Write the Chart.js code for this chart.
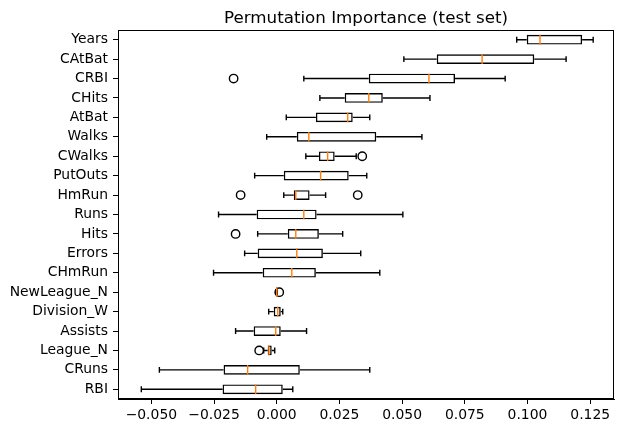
<!DOCTYPE html>
<html>
<head>
<meta charset="utf-8">
<script src="https://cdn.jsdelivr.net/npm/chart.js@4"></script>
<style>
  html, body { margin: 0; padding: 0; background: #fff; }
  canvas { display: block; }
</style>
</head>
<body>
<canvas id="grafico" width="624" height="433"></canvas>
<script>
// Datos (de arriba hacia abajo)
const features = ["Years", "CAtBat", "CRBI", "CHits", "AtBat", "Walks", "CWalks", "PutOuts", "HmRun",
  "Runs", "Hits", "Errors", "CHmRun", "NewLeague_N", "Division_W", "Assists", "League_N", "CRuns", "RBI"];
const whiskerLow = [0.0957, 0.0507, 0.0108, 0.0172, 0.0038, -0.0040, 0.0116, -0.0088, 0.0028,
  -0.0232, -0.0076, -0.0128, -0.0252, -0.0004, -0.0032, -0.0164, -0.0052, -0.0468, -0.0540];
const q1 = [0.0997, 0.0638, 0.0367, 0.0271, 0.0156, 0.0080, 0.0168, 0.0028, 0.0068,
  -0.0080, 0.0044, -0.0076, -0.0056, -0.0002, -0.0012, -0.0092, -0.0036, -0.0212, -0.0216];
const medians = [0.1050, 0.0819, 0.0607, 0.0367, 0.0283, 0.0128, 0.0203, 0.0175, 0.0076,
  0.0108, 0.0076, 0.0080, 0.0060, 0.0000, 0.0004, -0.0004, -0.0031, -0.0116, -0.0084];
const q3 = [0.1218, 0.1027, 0.0711, 0.0423, 0.0303, 0.0397, 0.0231, 0.0287, 0.0131,
  0.0159, 0.0168, 0.0184, 0.0156, 0.0001, 0.0016, 0.0016, -0.0020, 0.0092, 0.0024];
const whiskerHigh = [0.1262, 0.1154, 0.0911, 0.0611, 0.0371, 0.0579, 0.0317, 0.0359, 0.0195,
  0.0503, 0.0263, 0.0335, 0.0411, 0.0002, 0.0024, 0.0119, -0.0008, 0.0371, 0.0064];
const outlierLabels = ["CRBI", "CWalks", "HmRun", "HmRun", "Hits", "NewLeague_N", "League_N"];
const outlierValues = [-0.0172, 0.0341, -0.0144, 0.0323, -0.0164, 0.0010, -0.0070];
const xTicks = [-0.05, -0.025, 0, 0.025, 0.05, 0.075, 0.1, 0.125];
const titulo = "Permutation Importance (test set)";

const fuente = "'DejaVu Sans', sans-serif";
const ancho = 1.4;

// Bigotes, topes, medianas, marco y título sobre las escalas de Chart.js
const bigotes = {
  id: "bigotes",
  afterDatasetsDraw(chart) {
    const ctx = chart.ctx;
    const x = chart.scales.x;
    const y = chart.scales.y;
    const medio = (y.getPixelForValue(1) - y.getPixelForValue(0)) * 0.5 / 2;
    ctx.save();
    ctx.lineWidth = ancho;
    features.forEach((f, i) => {
      const py = y.getPixelForValue(i);
      const cap = medio / 2 + 0.5;
      ctx.strokeStyle = "#000";
      ctx.beginPath();
      ctx.moveTo(x.getPixelForValue(whiskerLow[i]), py);
      ctx.lineTo(x.getPixelForValue(q1[i]), py);
      ctx.moveTo(x.getPixelForValue(q3[i]), py);
      ctx.lineTo(x.getPixelForValue(whiskerHigh[i]), py);
      [whiskerLow[i], whiskerHigh[i]].forEach((v) => {
        const px = x.getPixelForValue(v);
        ctx.moveTo(px, py - cap);
        ctx.lineTo(px, py + cap);
      });
      ctx.stroke();
      ctx.strokeStyle = "#ff7f0e";
      ctx.beginPath();
      const pm = x.getPixelForValue(medians[i]);
      ctx.moveTo(pm, py - medio);
      ctx.lineTo(pm, py + medio);
      ctx.stroke();
    });
    const a = chart.chartArea;
    ctx.strokeStyle = "#000";
    ctx.lineWidth = 1;
    ctx.strokeRect(a.left + 0.5, a.top + 0.5, a.right - a.left - 1, a.bottom - a.top - 1);
    // título centrado sobre el área del gráfico
    ctx.fillStyle = "#000";
    ctx.font = "16.7px " + fuente;
    ctx.textAlign = "center";
    ctx.textBaseline = "alphabetic";
    ctx.fillText(titulo, (a.left + a.right) / 2, a.top - 7);
    ctx.restore();
  }
};

const config = {
  data: {
    labels: features,
    datasets: [
      {
        type: "bar",
        indexAxis: "y",
        data: features.map((f, i) => [q1[i], q3[i]]),
        backgroundColor: "rgba(255,255,255,0)",
        borderColor: "#000",
        borderWidth: ancho,
        borderSkipped: false,
        categoryPercentage: 1,
        barPercentage: 0.5,
        order: 2
      },
      {
        type: "scatter",
        data: outlierLabels.map((l, i) => ({ x: outlierValues[i], y: l })),
        pointStyle: "circle",
        pointRadius: 4.2,
        backgroundColor: "rgba(0,0,0,0)",
        borderColor: "#000",
        borderWidth: ancho,
        order: 1
      }
    ]
  },
  options: {
    responsive: false,
    animation: false,
    layout: { padding: { left: 0, right: 10, top: 30, bottom: 0 } },
    plugins: {
      legend: { display: false },
      tooltip: { enabled: false },
      title: { display: false }
    },
    scales: {
      x: {
        type: "linear",
        min: -0.0633,
        max: 0.1345,
        afterBuildTicks: (axis) => { axis.ticks = xTicks.map((v) => ({ value: v })); },
        afterFit: (axis) => { axis.height = 34; },
        grid: { drawOnChartArea: false, drawTicks: true, tickLength: 5, tickColor: "#000", tickWidth: 1 },
        border: { display: true, color: "#000" },
        ticks: {
          color: "#000",
          padding: 3,
          maxRotation: 0,
          font: { family: fuente, size: 13.9 },
          callback: (v) => (v < 0 ? "\u2212" : "") + Math.abs(v).toFixed(3)
        }
      },
      y: {
        type: "category",
        labels: features,
        offset: true,
        afterFit: (axis) => { axis.width = 118; },
        grid: { drawOnChartArea: false, drawTicks: true, tickLength: 5, tickColor: "#000", tickWidth: 1, offset: false },
        border: { display: true, color: "#000" },
        ticks: { color: "#000", padding: 5, autoSkip: false, font: { family: fuente, size: 13.9 } }
      }
    }
  },
  plugins: [bigotes]
};

new Chart(document.getElementById("grafico").getContext("2d"), config);
</script>
</body>
</html>
